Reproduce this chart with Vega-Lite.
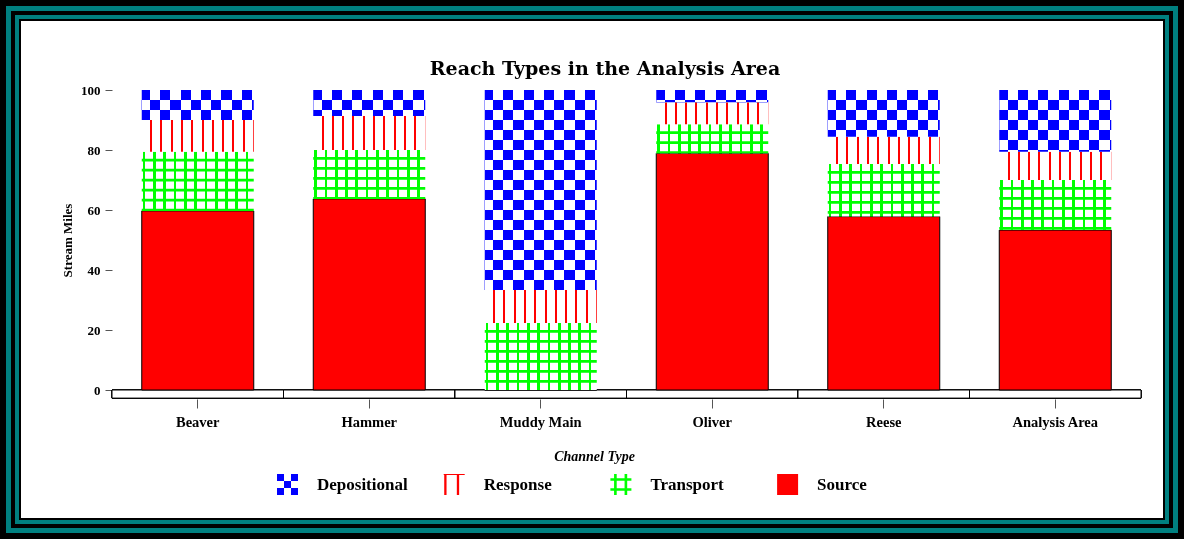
{
  "$schema": "https://vega.github.io/schema/vega-lite/v6.json",
  "width": 1184,
  "height": 539,
  "autosize": {"type": "none"},
  "padding": 0,
  "background": "white",
  "config": {"view": {"stroke": null}},
  "title": {"text": "Reach Types in the Analysis Area", "font": "DejaVu Serif", "fontSize": 19, "fontWeight": "bold", "color": "black", "anchor": "middle", "frame": "group", "dx": 13, "offset": -115, "baseline": "alphabetic"},
  "layer": [
    {"data": {"values": [{}]}, "mark": {"type": "rect", "fill": "transparent", "stroke": "#000000", "strokeWidth": 42}, "encoding": {"x": {"value": 0}, "x2": {"value": "width"}, "y": {"value": 0}, "y2": {"value": "height"}}},
    {"data": {"values": [{}]}, "mark": {"type": "rect", "fill": "transparent", "stroke": "#008080", "strokeWidth": 38}, "encoding": {"x": {"value": 0}, "x2": {"value": "width"}, "y": {"value": 0}, "y2": {"value": "height"}}},
    {"data": {"values": [{}]}, "mark": {"type": "rect", "fill": "transparent", "stroke": "#000000", "strokeWidth": 30}, "encoding": {"x": {"value": 0}, "x2": {"value": "width"}, "y": {"value": 0}, "y2": {"value": "height"}}},
    {"data": {"values": [{}]}, "mark": {"type": "rect", "fill": "transparent", "stroke": "#008080", "strokeWidth": 22}, "encoding": {"x": {"value": 0}, "x2": {"value": "width"}, "y": {"value": 0}, "y2": {"value": "height"}}},
    {"data": {"values": [{}]}, "mark": {"type": "rect", "fill": "transparent", "stroke": "#000000", "strokeWidth": 12}, "encoding": {"x": {"value": 0}, "x2": {"value": "width"}, "y": {"value": 0}, "y2": {"value": "height"}}},
    {
      "data": {"values": [
        {"Category": "Beaver", "Type": "Source", "Miles": 59.7},
        {"Category": "Beaver", "Type": "Transport", "Miles": 19.7},
        {"Category": "Beaver", "Type": "Response", "Miles": 10.6},
        {"Category": "Beaver", "Type": "Depositional", "Miles": 10.0},
        {"Category": "Hammer", "Type": "Source", "Miles": 63.7},
        {"Category": "Hammer", "Type": "Transport", "Miles": 16.3},
        {"Category": "Hammer", "Type": "Response", "Miles": 11.3},
        {"Category": "Hammer", "Type": "Depositional", "Miles": 8.7},
        {"Category": "Muddy Main", "Type": "Source", "Miles": 0},
        {"Category": "Muddy Main", "Type": "Transport", "Miles": 22.3},
        {"Category": "Muddy Main", "Type": "Response", "Miles": 11.0},
        {"Category": "Muddy Main", "Type": "Depositional", "Miles": 66.7},
        {"Category": "Oliver", "Type": "Source", "Miles": 78.9},
        {"Category": "Oliver", "Type": "Transport", "Miles": 9.7},
        {"Category": "Oliver", "Type": "Response", "Miles": 7.3},
        {"Category": "Oliver", "Type": "Depositional", "Miles": 4.1},
        {"Category": "Reese", "Type": "Source", "Miles": 57.8},
        {"Category": "Reese", "Type": "Transport", "Miles": 17.5},
        {"Category": "Reese", "Type": "Response", "Miles": 9.1},
        {"Category": "Reese", "Type": "Depositional", "Miles": 15.6},
        {"Category": "Analysis Area", "Type": "Source", "Miles": 53.3},
        {"Category": "Analysis Area", "Type": "Transport", "Miles": 16.7},
        {"Category": "Analysis Area", "Type": "Response", "Miles": 9.4},
        {"Category": "Analysis Area", "Type": "Depositional", "Miles": 20.6}
      ]},
      "transform": [{"stack": "Miles", "groupby": ["Category"], "as": ["y0", "y1"]}],
      "encoding": {
        "x": {"field": "Category", "type": "nominal", "sort": null,
          "scale": {"range": [112, 1141], "paddingInner": 0, "paddingOuter": 0},
          "axis": {"orient": "bottom", "offset": -140, "domain": false, "grid": false, "ticks": true, "tickSize": 9, "tickColor": "#555555", "labelAngle": 0, "labelFont": "Liberation Serif", "labelFontSize": 14.5, "labelFontWeight": "bold", "labelColor": "black", "labelPadding": 7, "title": "Channel Type", "titleFont": "Liberation Serif", "titleFontSize": 14, "titleFontWeight": "bold", "titleFontStyle": "italic", "titleColor": "black", "titleX": 594, "titleY": 61, "titleBaseline": "alphabetic", "titleAlign": "center"}},
        "y": {"field": "y1", "type": "quantitative", "title": "Stream Miles",
          "scale": {"domain": [0, 100], "range": [390, 90], "nice": false, "zero": false},
          "axis": {"orient": "left", "offset": -112, "domain": false, "grid": false, "values": [0, 20, 40, 60, 80, 100], "tickSize": 7, "tickColor": "#555555", "labelFont": "Liberation Serif", "labelFontSize": 13, "labelFontWeight": "bold", "labelColor": "black", "labelPadding": 5, "title": "Stream Miles", "titleFont": "Liberation Serif", "titleFontSize": 13, "titleFontWeight": "bold", "titleColor": "black", "titlePadding": 6}},
        "y2": {"field": "y0"}
      },
      "layer": [
        {"mark": {"type": "rect", "fill": "white", "stroke": "black", "strokeWidth": 1},
         "encoding": {"y": {"datum": 0, "type": "quantitative", "title": "Stream Miles"}, "y2": {"datum": -2.7}}},
        {"transform": [{"filter": "datum.Type === 'Source'"}],
         "mark": {"type": "bar", "size": 112, "fill": "#ff0000", "stroke": "black", "strokeWidth": 1}},
        {"transform": [{"filter": "datum.Type === 'Transport'"}],
         "mark": {"type": "bar", "size": 112, "fill": {"gradient": "linear", "x1": 0, "y1": 0, "x2": 1, "y2": 0, "stops": [
           {"offset": 0, "color": "#ffffff"}, {"offset": 0.0089, "color": "#ffffff"}, {"offset": 0.0089, "color": "#00ff00"}, {"offset": 0.033, "color": "#00ff00"}, {"offset": 0.033, "color": "#ffffff"},
           {"offset": 0.1009, "color": "#ffffff"}, {"offset": 0.1009, "color": "#00ff00"}, {"offset": 0.125, "color": "#00ff00"}, {"offset": 0.125, "color": "#ffffff"},
           {"offset": 0.1929, "color": "#ffffff"}, {"offset": 0.1929, "color": "#00ff00"}, {"offset": 0.217, "color": "#00ff00"}, {"offset": 0.217, "color": "#ffffff"},
           {"offset": 0.2848, "color": "#ffffff"}, {"offset": 0.2848, "color": "#00ff00"}, {"offset": 0.3089, "color": "#00ff00"}, {"offset": 0.3089, "color": "#ffffff"},
           {"offset": 0.3768, "color": "#ffffff"}, {"offset": 0.3768, "color": "#00ff00"}, {"offset": 0.4009, "color": "#00ff00"}, {"offset": 0.4009, "color": "#ffffff"},
           {"offset": 0.4688, "color": "#ffffff"}, {"offset": 0.4688, "color": "#00ff00"}, {"offset": 0.4929, "color": "#00ff00"}, {"offset": 0.4929, "color": "#ffffff"},
           {"offset": 0.5607, "color": "#ffffff"}, {"offset": 0.5607, "color": "#00ff00"}, {"offset": 0.5848, "color": "#00ff00"}, {"offset": 0.5848, "color": "#ffffff"},
           {"offset": 0.6527, "color": "#ffffff"}, {"offset": 0.6527, "color": "#00ff00"}, {"offset": 0.6768, "color": "#00ff00"}, {"offset": 0.6768, "color": "#ffffff"},
           {"offset": 0.7446, "color": "#ffffff"}, {"offset": 0.7446, "color": "#00ff00"}, {"offset": 0.7688, "color": "#00ff00"}, {"offset": 0.7688, "color": "#ffffff"},
           {"offset": 0.8366, "color": "#ffffff"}, {"offset": 0.8366, "color": "#00ff00"}, {"offset": 0.8607, "color": "#00ff00"}, {"offset": 0.8607, "color": "#ffffff"},
           {"offset": 0.9286, "color": "#ffffff"}, {"offset": 0.9286, "color": "#00ff00"}, {"offset": 0.9527, "color": "#00ff00"}, {"offset": 0.9527, "color": "#ffffff"},
           {"offset": 1, "color": "#ffffff"}]}}},
        {"transform": [{"filter": "datum.Type === 'Transport'"}],
         "mark": {"type": "rule", "stroke": "#00ff00", "strokeWidth": 112, "strokeDash": [2.7, 7.3], "strokeDashOffset": 3, "strokeCap": "butt"}},
        {"transform": [{"filter": "datum.Type === 'Response'"}],
         "mark": {"type": "bar", "size": 112, "fill": {"gradient": "linear", "x1": 0, "y1": 0, "x2": 1, "y2": 0, "stops": [
           {"offset": 0, "color": "#ffffff"}, {"offset": 0.0741, "color": "#ffffff"}, {"offset": 0.0741, "color": "#ff0000"}, {"offset": 0.092, "color": "#ff0000"}, {"offset": 0.092, "color": "#ffffff"},
           {"offset": 0.1661, "color": "#ffffff"}, {"offset": 0.1661, "color": "#ff0000"}, {"offset": 0.1839, "color": "#ff0000"}, {"offset": 0.1839, "color": "#ffffff"},
           {"offset": 0.258, "color": "#ffffff"}, {"offset": 0.258, "color": "#ff0000"}, {"offset": 0.2759, "color": "#ff0000"}, {"offset": 0.2759, "color": "#ffffff"},
           {"offset": 0.35, "color": "#ffffff"}, {"offset": 0.35, "color": "#ff0000"}, {"offset": 0.3679, "color": "#ff0000"}, {"offset": 0.3679, "color": "#ffffff"},
           {"offset": 0.442, "color": "#ffffff"}, {"offset": 0.442, "color": "#ff0000"}, {"offset": 0.4598, "color": "#ff0000"}, {"offset": 0.4598, "color": "#ffffff"},
           {"offset": 0.5339, "color": "#ffffff"}, {"offset": 0.5339, "color": "#ff0000"}, {"offset": 0.5518, "color": "#ff0000"}, {"offset": 0.5518, "color": "#ffffff"},
           {"offset": 0.6259, "color": "#ffffff"}, {"offset": 0.6259, "color": "#ff0000"}, {"offset": 0.6438, "color": "#ff0000"}, {"offset": 0.6438, "color": "#ffffff"},
           {"offset": 0.7179, "color": "#ffffff"}, {"offset": 0.7179, "color": "#ff0000"}, {"offset": 0.7357, "color": "#ff0000"}, {"offset": 0.7357, "color": "#ffffff"},
           {"offset": 0.8098, "color": "#ffffff"}, {"offset": 0.8098, "color": "#ff0000"}, {"offset": 0.8277, "color": "#ff0000"}, {"offset": 0.8277, "color": "#ffffff"},
           {"offset": 0.9018, "color": "#ffffff"}, {"offset": 0.9018, "color": "#ff0000"}, {"offset": 0.9196, "color": "#ff0000"}, {"offset": 0.9196, "color": "#ffffff"},
           {"offset": 0.9938, "color": "#ffffff"}, {"offset": 0.9938, "color": "#ff0000"}, {"offset": 1, "color": "#ff0000"}]}}},
        {"transform": [{"filter": "datum.Type === 'Depositional'"}],
         "mark": {"type": "bar", "size": 112, "fill": {"gradient": "linear", "x1": 0, "y1": 0, "x2": 1, "y2": 0, "stops": [
           {"offset": 0, "color": "#0000ff"}, {"offset": 0.0741, "color": "#0000ff"}, {"offset": 0.0741, "color": "#ffffff"},
           {"offset": 0.1652, "color": "#ffffff"}, {"offset": 0.1652, "color": "#0000ff"}, {"offset": 0.2563, "color": "#0000ff"}, {"offset": 0.2563, "color": "#ffffff"},
           {"offset": 0.3473, "color": "#ffffff"}, {"offset": 0.3473, "color": "#0000ff"}, {"offset": 0.4384, "color": "#0000ff"}, {"offset": 0.4384, "color": "#ffffff"},
           {"offset": 0.5295, "color": "#ffffff"}, {"offset": 0.5295, "color": "#0000ff"}, {"offset": 0.6205, "color": "#0000ff"}, {"offset": 0.6205, "color": "#ffffff"},
           {"offset": 0.7116, "color": "#ffffff"}, {"offset": 0.7116, "color": "#0000ff"}, {"offset": 0.8027, "color": "#0000ff"}, {"offset": 0.8027, "color": "#ffffff"},
           {"offset": 0.8938, "color": "#ffffff"}, {"offset": 0.8938, "color": "#0000ff"}, {"offset": 0.9848, "color": "#0000ff"}, {"offset": 0.9848, "color": "#ffffff"},
           {"offset": 1, "color": "#ffffff"}]}}},
        {"transform": [{"filter": "datum.Type === 'Depositional'"}],
         "mark": {"type": "rule", "stroke": "#ffff00", "strokeWidth": 112, "strokeDash": [10, 10], "strokeDashOffset": 10, "strokeCap": "butt", "blend": "difference"}},
        {"mark": {"type": "point", "filled": true, "opacity": 0},
         "encoding": {
           "y2": null,
           "color": {"field": "Type", "type": "nominal",
             "scale": {"domain": ["Depositional", "Response", "Transport", "Source"], "range": ["#0000ff", "#ff0000", "#00ff00", "#ff0000"]},
             "legend": {"title": null, "orient": "none", "legendX": 277, "legendY": 474, "direction": "horizontal", "columns": 4, "gridAlign": "all", "columnPadding": 35.7, "symbolSize": 441, "symbolOpacity": 1, "symbolStrokeWidth": 0, "labelFont": "Liberation Serif", "labelFontSize": 17, "labelFontWeight": "bold", "labelColor": "black", "labelOffset": 19, "padding": 0}},
           "shape": {"field": "Type", "type": "nominal",
             "scale": {"domain": ["Depositional", "Response", "Transport", "Source"], "range": [
               "M-1,-1h0.667v0.667h-0.667z M0.333,-1h0.667v0.667h-0.667z M-0.333,-0.333h0.667v0.667h-0.667z M-1,0.333h0.667v0.667h-0.667z M0.333,0.333h0.667v0.667h-0.667z",
               "M-0.95,-1h0.22v2h-0.22z M0.25,-1h0.22v2h-0.22z M-1,-1h2v0.1h-2z",
               "M-0.65,-1h0.25v2h-0.25z M0.35,-1h0.25v2h-0.25z M-1,-0.6h2v0.25h-2z M-1,0.35h2v0.25h-2z",
               "M-1,-1h2v2h-2z"]},
             "legend": {"title": null, "orient": "none", "legendX": 277, "legendY": 474, "direction": "horizontal", "columns": 4, "gridAlign": "all", "columnPadding": 35.7, "symbolSize": 441, "symbolOpacity": 1, "symbolStrokeWidth": 0, "labelFont": "Liberation Serif", "labelFontSize": 17, "labelFontWeight": "bold", "labelColor": "black", "labelOffset": 19, "padding": 0}}
         }}
      ]
    }
  ]
}
